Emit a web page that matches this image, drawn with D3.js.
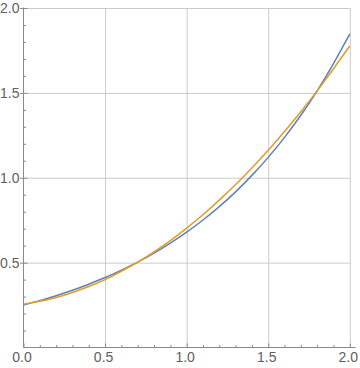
<!DOCTYPE html>
<html>
<head>
<meta charset="utf-8">
<script src="https://cdn.jsdelivr.net/npm/d3@7"></script>
<style>
    body { margin: 0; background: #fff; }
    svg { display: block; }
</style>
</head>
<body>
<svg id="chart" width="360" height="368"></svg>
<script>
// sample positions along x
const xValues = [0, 0.1, 0.2, 0.3, 0.4, 0.5, 0.6, 0.7, 0.8, 0.9, 1.0,
    1.1, 1.2, 1.3, 1.4, 1.5, 1.6, 1.7, 1.8, 1.9, 2.0];
// blue curve
const blueValues = [0.250, 0.276, 0.305, 0.337, 0.373, 0.412, 0.456, 0.503, 0.556, 0.615, 0.680,
    0.751, 0.830, 0.917, 1.014, 1.120, 1.238, 1.368, 1.512, 1.672, 1.847];
// orange curve
const orangeValues = [0.255, 0.272, 0.294, 0.324, 0.359, 0.400, 0.449, 0.503, 0.563, 0.629, 0.703,
    0.782, 0.868, 0.960, 1.058, 1.162, 1.273, 1.389, 1.512, 1.642, 1.777];
const xTicks = [0, 0.5, 1.0, 1.5, 2.0];
const yTicks = [0.5, 1.0, 1.5, 2.0];
const xMinor = [0.1, 0.2, 0.3, 0.4, 0.6, 0.7, 0.8, 0.9, 1.1, 1.2, 1.3, 1.4, 1.6, 1.7, 1.8, 1.9];
const yMinor = [0.1, 0.2, 0.3, 0.4, 0.6, 0.7, 0.8, 0.9, 1.1, 1.2, 1.3, 1.4, 1.6, 1.7, 1.8, 1.9];

let svg = d3.select('#chart');
let padLeft = 23.5, padRight = 349.8, padTop = 8, padBottom = 347.5;

let xScale = d3.scaleLinear().domain([0, 2]).range([padLeft, padRight]);
let yScale = d3.scaleLinear().domain([0, 2]).range([padBottom, padTop]);

let axisColor = '#8a8a8a';
let gridColor = '#cbcbcb';
let textColor = '#606060';
let font = '"Liberation Sans", Arial, sans-serif';

// grid lines
svg.append('g')
    .attr('transform', 'translate(0,' + padBottom + ')')
    .call(d3.axisBottom(xScale).tickValues(xTicks.slice(1)).tickSize(-(padBottom - padTop)).tickFormat(''))
    .call(g => g.select('.domain').remove())
    .call(g => g.selectAll('line').attr('stroke', gridColor));
svg.append('g')
    .attr('transform', 'translate(' + padLeft + ',0)')
    .call(d3.axisLeft(yScale).tickValues(yTicks).tickSize(-(padRight - padLeft)).tickFormat(''))
    .call(g => g.select('.domain').remove())
    .call(g => g.selectAll('line').attr('stroke', gridColor));

// curves
let line = d3.line()
    .x((d, i) => xScale(xValues[i]))
    .y(d => yScale(d))
    .curve(d3.curveNatural);

svg.append('path')
    .datum(blueValues)
    .attr('d', line)
    .attr('fill', 'none')
    .attr('stroke', '#5e81b5')
    .attr('stroke-width', 1.5);
svg.append('path')
    .datum(orangeValues)
    .attr('d', line)
    .attr('fill', 'none')
    .attr('stroke', '#e19c24')
    .attr('stroke-width', 1.5);

// x axis
svg.append('line')
    .attr('x1', padLeft).attr('x2', 355.5)
    .attr('y1', padBottom).attr('y2', padBottom)
    .attr('stroke', axisColor);
svg.append('g')
    .attr('transform', 'translate(0,' + padBottom + ')')
    .call(d3.axisBottom(xScale).tickValues(xMinor).tickSize(-2.5).tickFormat(''))
    .call(g => g.select('.domain').remove())
    .call(g => g.selectAll('line').attr('stroke', axisColor));
svg.append('g')
    .attr('transform', 'translate(0,' + padBottom + ')')
    .call(d3.axisBottom(xScale).tickValues(xTicks).tickSize(-4).tickPadding(5).tickFormat(d3.format('.1f')))
    .call(g => g.select('.domain').remove())
    .call(g => g.selectAll('line').attr('stroke', axisColor))
    .call(g => g.selectAll('text')
        .attr('x', -2)
        .attr('fill', textColor)
        .style('font-family', font)
        .style('font-size', '14px'));

// y axis
svg.append('line')
    .attr('x1', padLeft).attr('x2', padLeft)
    .attr('y1', padBottom).attr('y2', padTop - 0.5)
    .attr('stroke', axisColor);
svg.append('g')
    .attr('transform', 'translate(' + padLeft + ',0)')
    .call(d3.axisRight(yScale).tickValues(yMinor).tickSize(2.5).tickFormat(''))
    .call(g => g.select('.domain').remove())
    .call(g => g.selectAll('line').attr('stroke', axisColor));
svg.append('g')
    .attr('transform', 'translate(' + padLeft + ',0)')
    .call(d3.axisLeft(yScale).tickValues(yTicks).tickSize(3.5).tickPadding(0.5).tickFormat(d3.format('.1f')))
    .call(g => g.select('.domain').remove())
    .call(g => g.selectAll('line').attr('stroke', axisColor).attr('x2', -3.5).attr('x1', 4))
    .call(g => g.selectAll('text')
        .attr('fill', textColor)
        .style('font-family', font)
        .style('font-size', '14px'));
</script>
</body>
</html>
